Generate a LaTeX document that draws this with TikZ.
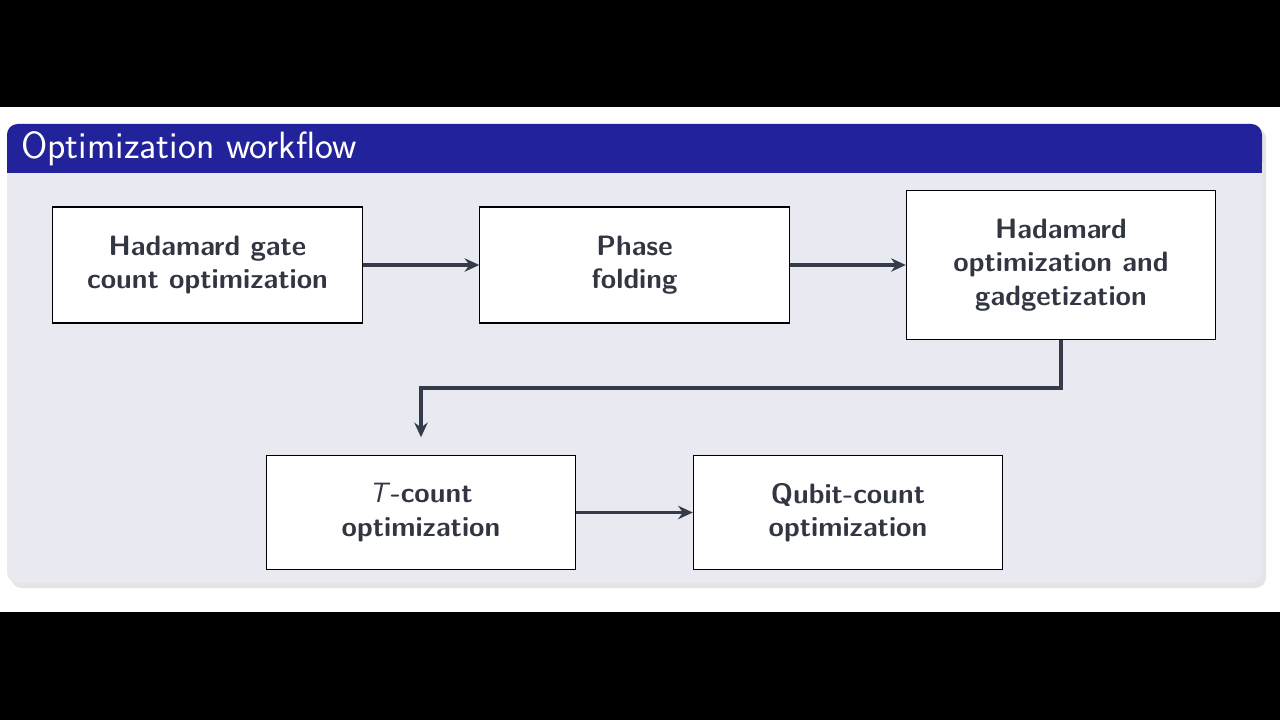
\documentclass[tikz,border=0pt]{standalone}
\usepackage{amsmath}
\usetikzlibrary{arrows.meta}
\definecolor{slideblue}{RGB}{34,34,154}
\definecolor{bodygray}{RGB}{233,233,242}
\definecolor{linegray}{RGB}{52,60,76}
\definecolor{textgray}{RGB}{50,54,66}
\tikzset{
  stage/.style={draw=black,fill=white,line width=0.8pt,minimum width=232pt,align=center,inner sep=0pt,text=textgray,font=\sffamily\bfseries\fontsize{21}{25}\selectfont},
  flow/.style={draw=linegray,line width=2.4pt,-{Stealth[length=11pt,width=10pt]}}
}
\begin{document}
\begin{tikzpicture}[x=0.75pt,y=0.75pt,yscale=-1,xscale=1]
\fill[black] (0,0) rectangle (1280,720);
\fill[white] (0,107) rectangle (1280,612);
% block shadow and body
\fill[black!10,rounded corners=8pt] (11,128) rectangle (1266,588);
\fill[bodygray,rounded corners=8pt] (7,124) rectangle (1262,583);
\fill[slideblue,rounded corners=8pt] (7,173) -- (7,124) -- (1262,124) -- (1262,173) -- cycle;
\fill[slideblue] (7,160) rectangle (1262,173);
\node[anchor=west,text=white,font=\sffamily\fontsize{28.5}{30}\selectfont,inner sep=0pt] (title) at (21,149) {Optimization workflow};
% stages
\node[stage,minimum height=87pt] (hcount) at (207.5,265) {Hadamard gate\\count optimization};
\node[stage,minimum height=87pt] (phase) at (634.5,265) {Phase\\folding};
\node[stage,minimum height=112pt] (hgadget) at (1061,265) {Hadamard\\optimization and\\gadgetization};
\node[stage,minimum height=86pt] (tcount) at (421,512.5) {\textmd{\textit{T}}-count\\optimization};
\node[stage,minimum height=86pt] (qubit) at (848,512.5) {Qubit-count\\optimization};
\coordinate (bend) at (1061,388);
% connectors
\draw[flow] (hcount) -- (phase);
\draw[flow] (phase) -- (hgadget);
\draw[flow] (hgadget.south) -- (bend) -| ([yshift=-13]tcount.north);
\draw[flow] (tcount) -- (qubit);
\end{tikzpicture}
\end{document}
